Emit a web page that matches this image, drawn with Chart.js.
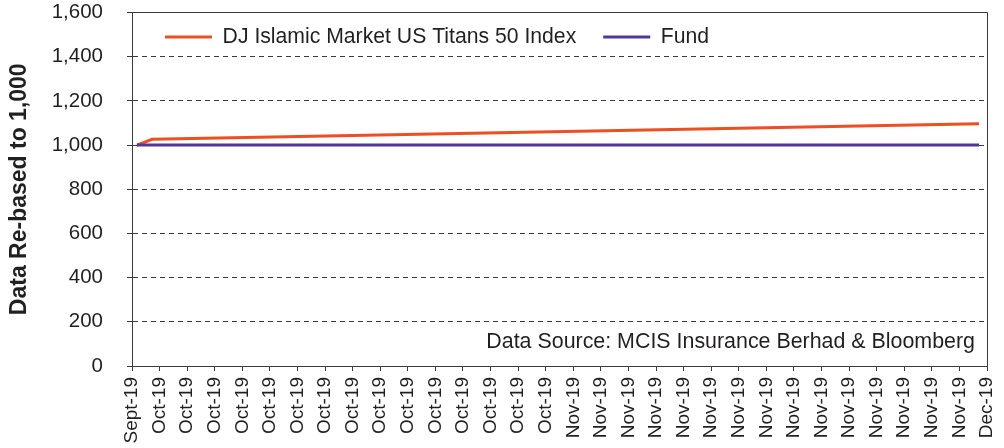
<!DOCTYPE html>
<html>
<head>
<meta charset="utf-8">
<script src="https://cdn.jsdelivr.net/npm/chart.js@4/dist/chart.umd.min.js"></script>
<style>
  html, body { margin: 0; padding: 0; background: #ffffff; }
  #wrap { width: 1004px; height: 448px; }
</style>
</head>
<body>
<div id="wrap"><canvas id="c" width="1004" height="448"></canvas></div>
<script>
// ---- data ----
const tickLabels = ['Sept-19',
  'Oct-19','Oct-19','Oct-19','Oct-19','Oct-19','Oct-19','Oct-19','Oct-19',
  'Oct-19','Oct-19','Oct-19','Oct-19','Oct-19','Oct-19','Oct-19',
  'Nov-19','Nov-19','Nov-19','Nov-19','Nov-19','Nov-19','Nov-19','Nov-19',
  'Nov-19','Nov-19','Nov-19','Nov-19','Nov-19','Nov-19','Nov-19',
  'Dec-19'];
const seriesNames = ['DJ Islamic Market US Titans 50 Index', 'Fund'];
// positions along the date axis, in tick-label units
const indexPos = [0.18, 0.73, 30.71];
const indexValues = [1000, 1026, 1096];
const fundPos = [0.18, 30.71];
const fundValues = [1000, 1000];
const yTicks = [0, 200, 400, 600, 800, 1000, 1200, 1400, 1600];
const yTitle = 'Data Re-based to 1,000';
const sourceNote = 'Data Source: MCIS Insurance Berhad & Bloomberg';

// ---- styles ----
const FONT = "'Liberation Sans', Arial, Helvetica, sans-serif";
const TEXT = '#231f20';
const AXIS = '#3a3a3a';
const ORANGE = '#EF4E23';
const PURPLE = '#52379A';

Chart.defaults.font.family = FONT;
Chart.defaults.color = TEXT;

const toPts = (xs, ys) => xs.map((x, i) => ({ x: x, y: ys[i] }));
const align1 = (p) => Math.round(p - 0.5) + 0.5;

const framePlugin = {
  id: 'frame',
  beforeLayout(chart) {
    const lg = chart.legend;
    if (lg && !lg.__patched) {
      lg.__patched = true;
      const origFit = lg.fit;
      lg.fit = function () {
        origFit.call(this);
        this.height = 0; // legend sits inside the plot area
      };
    }
  },
  afterLayout(chart) {
    const lg = chart.legend;
    if (lg) {
      lg.left = 138;
      lg.right = chart.chartArea.right;
      lg.top = 37 - 27 - 10.6;
      lg.bottom = lg.top + 80;
      lg.width = lg.right - lg.left;
      lg.height = lg.bottom - lg.top;
    }
  },
  afterDraw(chart) {
    const { ctx, chartArea: a } = chart;
    ctx.save();
    ctx.strokeStyle = AXIS;
    ctx.lineWidth = 1;
    ctx.setLineDash([]);
    const t = align1(a.top);
    const r = align1(a.right);
    const b = Math.round(a.bottom);
    ctx.beginPath();
    ctx.moveTo(Math.round(a.left) - 5, t);
    ctx.lineTo(r, t);
    ctx.lineTo(r, b);
    ctx.stroke();
    ctx.fillStyle = TEXT;
    ctx.font = '21.4px ' + FONT;
    ctx.textAlign = 'right';
    ctx.textBaseline = 'middle';
    ctx.fillText(sourceNote, a.right - 12, a.bottom - 24);
    ctx.restore();
  }
};

new Chart(document.getElementById('c'), {
  type: 'line',
  data: {
    datasets: [
      {
        label: seriesNames[0],
        data: toPts(indexPos, indexValues),
        borderColor: ORANGE,
        backgroundColor: ORANGE,
        borderWidth: 3,
        pointRadius: 0,
        tension: 0,
        order: 1
      },
      {
        label: seriesNames[1],
        data: toPts(fundPos, fundValues),
        borderColor: PURPLE,
        backgroundColor: PURPLE,
        borderWidth: 3,
        pointRadius: 0,
        tension: 0,
        order: 0
      }
    ]
  },
  options: {
    responsive: false,
    animation: false,
    devicePixelRatio: 1,
    layout: { padding: { top: 12.5, right: 17, left: 0, bottom: 0 } },
    plugins: {
      tooltip: { enabled: false },
      legend: {
        position: 'top',
        align: 'start',
        reverse: true,
        labels: {
          font: { size: 21.2, family: FONT },
          color: TEXT,
          usePointStyle: true,
          pointStyleWidth: 47,
          pointStyle: 'line',
          padding: 27
        }
      }
    },
    scales: {
      x: {
        type: 'linear',
        min: 0,
        max: tickLabels.length - 1,
        afterFit(s) { s.height = 82; s.paddingLeft = 0; s.paddingRight = 0; },
        afterBuildTicks(s) {
          s.ticks = tickLabels.map((_, i) => ({ value: i }));
        },
        ticks: {
          autoSkip: false,
          minRotation: 90,
          maxRotation: 90,
          padding: 6,
          font: { size: 19 },
          color: TEXT,
          callback: (v) => tickLabels[v]
        },
        grid: {
          drawOnChartArea: false,
          drawTicks: true,
          tickLength: 5,
          color: AXIS
        },
        border: { display: true, color: AXIS, width: 1 }
      },
      y: {
        min: 0,
        max: 1600,
        afterFit(s) { s.width = 132; s.paddingTop = 0; s.paddingBottom = 0; },
        afterBuildTicks(s) {
          s.ticks = yTicks.map(v => ({ value: v }));
        },
        ticks: {
          padding: 24,
          font: { size: 20.5 },
          color: TEXT,
          callback: (v) => v.toLocaleString('en-US')
        },
        grid: {
          color: AXIS,
          lineWidth: 1,
          tickLength: 5,
          tickBorderDash: [],
          tickColor: AXIS
        },
        border: { display: true, color: AXIS, width: 1, dash: [5, 4] },
        title: {
          display: true,
          text: yTitle,
          color: TEXT,
          font: { size: 23, weight: 'bold' },
          padding: { top: 6, bottom: 0 }
        }
      }
    }
  },
  plugins: [framePlugin]
});
</script>
</body>
</html>
